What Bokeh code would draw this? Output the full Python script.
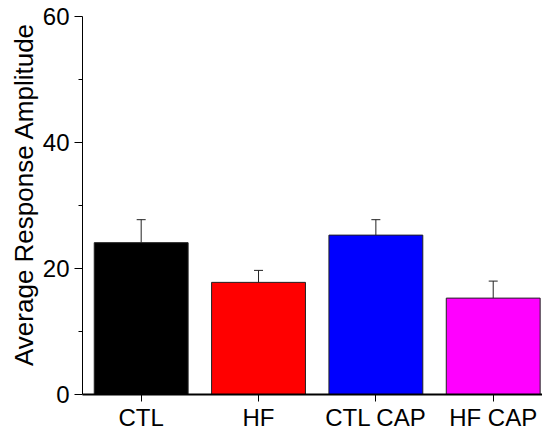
from bokeh.plotting import figure
from bokeh.models import Range1d, FixedTicker, Whisker, TeeHead, ColumnDataSource, Title
from bokeh.embed import file_html
from bokeh.resources import INLINE

categories = ["CTL", "HF", "CTL CAP", "HF CAP"]
means = [24.1, 17.8, 25.3, 15.3]
errors = [3.65, 1.9, 2.45, 2.7]
colors = ["#000000", "#FF0000", "#0000FF", "#FF00FF"]
y_ticks = [0, 20, 40, 60]
y_title = "Average Response Amplitude"

xs = [i + 0.5 for i in range(len(categories))]
src = ColumnDataSource(dict(
    x=xs, top=means, color=colors,
    upper=[m + e for m, e in zip(means, errors)],
))

p = figure(width=542, height=436, output_backend="svg", toolbar_location=None,
           x_range=Range1d(0, 3.92), y_range=Range1d(0, 60),
           min_border_left=82, min_border_right=0, min_border_top=16, min_border_bottom=42)
p.outline_line_color = None
p.xgrid.visible = False
p.ygrid.visible = False

p.vbar(x="x", top="top", width=0.8, bottom=0, fill_color="color",
       line_color="#222222", line_width=1, source=src)

w = Whisker(base="x", lower="top", upper="upper", source=src,
            line_color="#222222", line_width=1,
            upper_head=TeeHead(size=9, line_color="#222222", line_width=1),
            lower_head=None)
p.add_layout(w)

FONT = "Liberation Sans"
p.xaxis.ticker = FixedTicker(ticks=xs)
p.xaxis.major_label_overrides = {x: c for x, c in zip(xs, categories)}
p.xaxis.minor_tick_line_color = None
p.xaxis.major_tick_out = 7
p.xaxis.major_tick_in = 0
p.xaxis.axis_line_width = 2
p.xaxis.major_label_text_font = FONT
p.xaxis.major_label_text_font_size = "24px"
p.xaxis.major_label_text_color = "black"
p.xaxis.major_label_standoff = 2

p.yaxis.ticker = FixedTicker(ticks=y_ticks, minor_ticks=[10, 30, 50])
p.yaxis.major_tick_out = 8
p.yaxis.major_tick_in = 0
p.yaxis.minor_tick_out = 4
p.yaxis.minor_tick_in = 0
p.yaxis.axis_line_width = 1
p.yaxis.major_label_text_font = FONT
p.yaxis.major_label_text_font_size = "24px"
p.yaxis.major_label_text_color = "black"
p.yaxis.major_label_standoff = 5

title = Title(text=y_title, align="right", offset=6, standoff=2,
              text_font=FONT, text_font_size="26px", text_font_style="normal",
              text_color="black")
p.add_layout(title, "left")

open("out.html", "w").write(file_html(p, INLINE))
